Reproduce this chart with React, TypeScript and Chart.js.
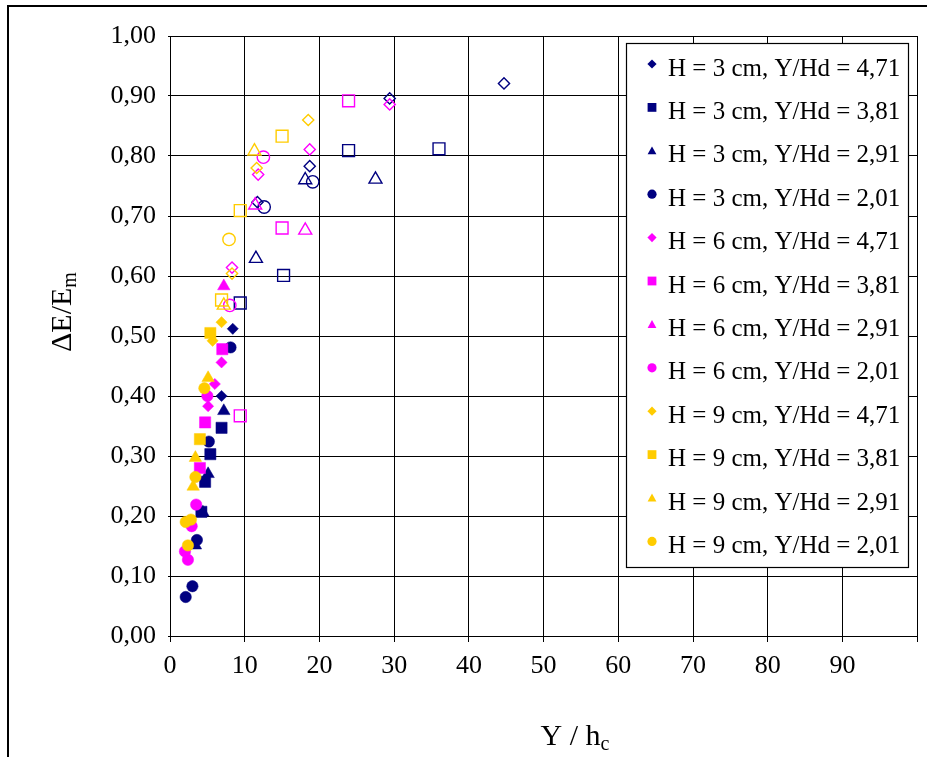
import React, { useEffect, useRef } from 'react';
import { Chart, registerables } from 'chart.js';

Chart.register(...registerables);

type Pt = [number, number];

// Series labels (legend order)
const seriesLabels = [
  'H = 3 cm, Y/Hd = 4,71',
  'H = 3 cm, Y/Hd = 3,81',
  'H = 3 cm, Y/Hd = 2,91',
  'H = 3 cm, Y/Hd = 2,01',
  'H = 6 cm, Y/Hd = 4,71',
  'H = 6 cm, Y/Hd = 3,81',
  'H = 6 cm, Y/Hd = 2,91',
  'H = 6 cm, Y/Hd = 2,01',
  'H = 9 cm, Y/Hd = 4,71',
  'H = 9 cm, Y/Hd = 3,81',
  'H = 9 cm, Y/Hd = 2,91',
  'H = 9 cm, Y/Hd = 2,01',
];

// H = 3 cm  — [Y/hc, ΔE/Em]
const h3_471_filled: Pt[] = [[6.9, 0.400], [8.4, 0.512]];
const h3_471_open: Pt[] = [[11.7, 0.723], [18.7, 0.783], [29.4, 0.896], [44.7, 0.921]];
const h3_381_filled: Pt[] = [[4.2, 0.207], [4.7, 0.257], [5.4, 0.303], [6.9, 0.347]];
const h3_381_open: Pt[] = [[9.4, 0.555], [15.2, 0.601], [23.9, 0.809], [36.0, 0.812]];
const h3_291_filled: Pt[] = [[3.4, 0.151], [4.4, 0.206], [5.1, 0.270], [7.2, 0.375]];
const h3_291_open: Pt[] = [[11.5, 0.629], [18.1, 0.760], [27.5, 0.761]];
const h3_201_filled: Pt[] = [[2.1, 0.065], [3.0, 0.083], [3.6, 0.160], [5.2, 0.324], [8.1, 0.481]];
const h3_201_open: Pt[] = [[12.6, 0.715], [19.1, 0.757]];

// H = 6 cm
const h6_471_filled: Pt[] = [[5.1, 0.383], [6.0, 0.420], [6.9, 0.456]];
const h6_471_open: Pt[] = [[8.3, 0.614], [11.8, 0.769], [18.7, 0.811], [29.4, 0.886]];
const h6_381_filled: Pt[] = [[4.0, 0.280], [4.7, 0.356], [7.0, 0.478]];
const h6_381_open: Pt[] = [[9.4, 0.367], [15.0, 0.680], [23.9, 0.892]];
const h6_291_filled: Pt[] = [[7.2, 0.583]];
const h6_291_open: Pt[] = [[11.4, 0.718], [18.1, 0.676]];
const h6_201_filled: Pt[] = [[2.0, 0.141], [2.4, 0.127], [2.9, 0.183], [3.5, 0.219], [5.0, 0.400]];
const h6_201_open: Pt[] = [[8.0, 0.551], [12.5, 0.798]];

// H = 9 cm
const h9_471_filled: Pt[] = [[5.7, 0.492], [6.9, 0.523]];
const h9_471_open: Pt[] = [[8.3, 0.604], [11.6, 0.780], [18.5, 0.860]];
const h9_381_filled: Pt[] = [[4.0, 0.328], [5.4, 0.505]];
const h9_381_open: Pt[] = [[6.9, 0.560], [9.4, 0.709], [15.0, 0.833]];
const h9_291_filled: Pt[] = [[3.1, 0.249], [3.4, 0.297], [5.1, 0.430]];
const h9_291_open: Pt[] = [[7.2, 0.551], [11.3, 0.808]];
const h9_201_filled: Pt[] = [[2.1, 0.190], [2.8, 0.194], [2.4, 0.151], [3.4, 0.265], [4.6, 0.413]];
const h9_201_open: Pt[] = [[7.9, 0.661]];

const filledSets: Pt[][] = [
  h3_471_filled, h3_381_filled, h3_291_filled, h3_201_filled,
  h6_471_filled, h6_381_filled, h6_291_filled, h6_201_filled,
  h9_471_filled, h9_381_filled, h9_291_filled, h9_201_filled,
];
const openSets: Pt[][] = [
  h3_471_open, h3_381_open, h3_291_open, h3_201_open,
  h6_471_open, h6_381_open, h6_291_open, h6_201_open,
  h9_471_open, h9_381_open, h9_291_open, h9_201_open,
];

// X ticks (0..100 step 10) and Y ticks (0..1 step 0.1)
const xTicksStep = 10;
const yTicksStep = 0.1;

const NAVY = '#000080';
const MAGENTA = '#FF00FF';
const YELLOW = '#FFCC00';
const colorFor = (i: number) => (i < 4 ? NAVY : i < 8 ? MAGENTA : YELLOW);
type Shape = 'rectRot' | 'rect' | 'triangle' | 'circle';
const shapes: Shape[] = ['rectRot', 'rect', 'triangle', 'circle'];
const shapeFor = (i: number) => shapes[i % 4];

const filledRadius: Record<Shape, number> = { rectRot: 5.6, rect: 7.9, triangle: 7.2, circle: 5.7 };
const openRadius: Record<Shape, number> = { rectRot: 5.6, rect: 8.4, triangle: 7.5, circle: 6.2 };

const SERIF = '"Liberation Serif", "Times New Roman", serif';

function drawMarker(ctx: CanvasRenderingContext2D, shape: Shape, x: number, y: number, s: number, color: string) {
  ctx.save();
  ctx.fillStyle = color;
  ctx.beginPath();
  if (shape === 'rectRot') {
    ctx.moveTo(x, y - s);
    ctx.lineTo(x + s, y);
    ctx.lineTo(x, y + s);
    ctx.lineTo(x - s, y);
    ctx.closePath();
  } else if (shape === 'rect') {
    ctx.rect(x - s, y - s, 2 * s, 2 * s);
  } else if (shape === 'triangle') {
    ctx.moveTo(x, y - s);
    ctx.lineTo(x + s, y + s * 0.8);
    ctx.lineTo(x - s, y + s * 0.8);
    ctx.closePath();
  } else {
    ctx.arc(x, y, s, 0, Math.PI * 2);
  }
  ctx.fill();
  ctx.restore();
}

const decorPlugin = {
  id: 'decor',
  afterDraw(chart: Chart) {
    const ctx = chart.ctx;
    const W = chart.width;
    const H = chart.height;
    ctx.save();

    // outer frame (left and top edges)
    ctx.strokeStyle = '#000';
    ctx.lineWidth = 2;
    ctx.beginPath();
    ctx.moveTo(8, H);
    ctx.lineTo(8, 6);
    ctx.lineTo(W, 6);
    ctx.stroke();

    // legend box
    const lx = 626.5, ly = 43.5, lw = 282, lh = 524;
    ctx.fillStyle = '#fff';
    ctx.fillRect(lx, ly, lw, lh);
    ctx.strokeStyle = '#000';
    ctx.lineWidth = 1.2;
    ctx.strokeRect(lx, ly, lw, lh);
    ctx.font = `25px ${SERIF}`;
    ctx.textBaseline = 'middle';
    ctx.textAlign = 'left';
    seriesLabels.forEach((label, i) => {
      const cy = 68 + i * 43.4;
      const shape = shapeFor(i);
      const s = shape === 'circle' ? 4.6 : shape === 'rectRot' ? 4.6 : 4.4;
      drawMarker(ctx, shape, 652, cy - 4, s, colorFor(i));
      ctx.fillStyle = '#000';
      ctx.fillText(label, 668, cy + 1);
    });

    // axis titles with subscripts
    ctx.fillStyle = '#000';
    ctx.textBaseline = 'alphabetic';
    const mainFont = `30px ${SERIF}`;
    const subFont = `20px ${SERIF}`;

    // x title: Y / h_c
    ctx.font = mainFont;
    const xMain = 'Y / h';
    const wMain = ctx.measureText(xMain).width;
    ctx.font = subFont;
    const wSub = ctx.measureText('c').width;
    const xStart = 575 - (wMain + wSub) / 2;
    const xBase = 745;
    ctx.font = mainFont;
    ctx.fillText(xMain, xStart, xBase);
    ctx.font = subFont;
    ctx.fillText('c', xStart + wMain, xBase + 5);

    // y title: ΔE/E_m (rotated)
    ctx.translate(71, 312);
    ctx.rotate(-Math.PI / 2);
    ctx.font = mainFont;
    const yMain = 'ΔE/E';
    const yW = ctx.measureText(yMain).width;
    ctx.font = subFont;
    const ySubW = ctx.measureText('m').width;
    const yStart = -(yW + ySubW) / 2;
    ctx.font = mainFont;
    ctx.fillText(yMain, yStart, 0);
    ctx.font = subFont;
    ctx.fillText('m', yStart + yW, 5);

    ctx.restore();
  },
};

export default function App() {
  const canvasRef = useRef<HTMLCanvasElement | null>(null);

  useEffect(() => {
    if (!canvasRef.current) return;

    const datasets: any[] = [];
    filledSets.forEach((pts, i) => {
      const shape = shapeFor(i);
      datasets.push({
        label: seriesLabels[i],
        data: pts.map(([x, y]) => ({ x, y })),
        pointStyle: shape,
        pointRadius: filledRadius[shape],
        pointHoverRadius: filledRadius[shape],
        backgroundColor: colorFor(i),
        borderColor: colorFor(i),
        borderWidth: 0.5,
        showLine: false,
        order: 24 - i,
      });
    });
    openSets.forEach((pts, i) => {
      const shape = shapeFor(i);
      datasets.push({
        label: seriesLabels[i] + ' ',
        data: pts.map(([x, y]) => ({ x, y })),
        pointStyle: shape,
        pointRadius: openRadius[shape],
        pointHoverRadius: openRadius[shape],
        backgroundColor: 'rgba(0,0,0,0)',
        borderColor: colorFor(i),
        borderWidth: 1.4,
        showLine: false,
        order: 12 - i,
      });
    });

    const chart = new Chart(canvasRef.current, {
      type: 'scatter',
      data: { datasets },
      options: {
        animation: false,
        responsive: false,
        layout: { padding: { left: 1, top: 36, right: 9, bottom: 0 } },
        plugins: {
          legend: { display: false },
          tooltip: { enabled: false },
        },
        scales: {
          x: {
            type: 'linear',
            min: 0,
            max: 100,
            afterFit: (scale: any) => { scale.height = 121; },
            ticks: {
              stepSize: xTicksStep,
              color: '#000',
              padding: 9,
              font: { family: SERIF, size: 26 },
              callback: (v: any) => (Number(v) >= 100 ? '' : String(v)),
              maxRotation: 0,
            },
            grid: { color: '#000', lineWidth: 1, drawTicks: true, tickLength: 6, tickColor: '#000' },
            border: { color: '#000', width: 1 },
          },
          y: {
            type: 'linear',
            min: 0,
            max: 1,
            afterFit: (scale: any) => { scale.width = 169; },
            ticks: {
              stepSize: yTicksStep,
              color: '#000',
              padding: 12,
              font: { family: SERIF, size: 26 },
              callback: (v: any) => Number(v).toFixed(2).replace('.', ','),
            },
            grid: { color: '#000', lineWidth: 1, drawTicks: true, tickLength: 2, tickColor: '#000' },
            border: { color: '#000', width: 1 },
          },
        },
      },
      plugins: [decorPlugin],
    });

    return () => chart.destroy();
  }, []);

  return (
    <div style={{ position: 'fixed', left: 0, top: 0, width: 927, height: 757, background: '#fff' }}>
      <canvas ref={canvasRef} width={927} height={757} style={{ display: 'block' }} />
    </div>
  );
}
